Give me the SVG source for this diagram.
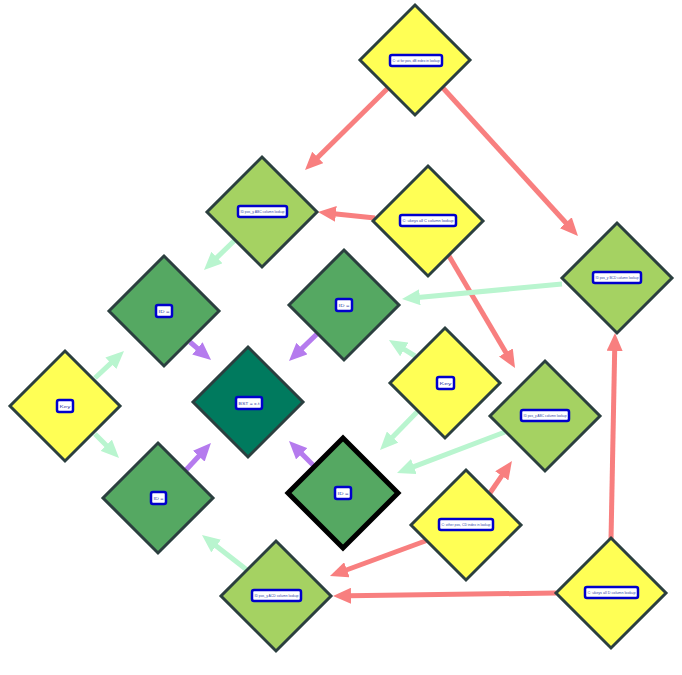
<svg xmlns="http://www.w3.org/2000/svg" width="682" height="675" viewBox="0 0 682 675">
  <defs>
    <style>
      .node { stroke: #2b3f3f; stroke-width: 3; stroke-linejoin: miter; }
      .yellow { fill: #ffff55; }
      .lgreen { fill: #a5d262; }
      .mgreen { fill: #55a862; }
      .teal { fill: #007a5e; }
      .bold { stroke: #000000; stroke-width: 5; }
      .tag { fill: #ffffff; stroke: #0000cc; stroke-width: 2.5; }
      .tag-text { font-family: "Liberation Sans", Arial, sans-serif; font-size: 4px; fill: #3344aa; text-anchor: middle; dominant-baseline: central; }
      .edge { fill: none; stroke-width: 5; }
      .red { stroke: #f87f7f; }
      .mint { stroke: #b9f5cf; }
      .purple { stroke: #b57bee; }
    </style>
    <marker id="ah-red" viewBox="0 0 18 16" markerUnits="userSpaceOnUse" markerWidth="18" markerHeight="16" refX="2" refY="8" orient="auto">
      <path d="M0,0 L18,8 L0,16 z" fill="#f87f7f"/>
    </marker>
    <marker id="ah-mint" viewBox="0 0 18 16" markerUnits="userSpaceOnUse" markerWidth="18" markerHeight="16" refX="2" refY="8" orient="auto">
      <path d="M0,0 L18,8 L0,16 z" fill="#b9f5cf"/>
    </marker>
    <marker id="ah-purple" viewBox="0 0 18 16" markerUnits="userSpaceOnUse" markerWidth="18" markerHeight="16" refX="2" refY="8" orient="auto">
      <path d="M0,0 L18,8 L0,16 z" fill="#b57bee"/>
    </marker>
  </defs>
  <rect width="682" height="675" fill="#ffffff"/>

  <g id="connectors">
    <line class="edge red" x1="388" y1="88" x2="316.4" y2="158.8" marker-end="url(#ah-red)"/>
    <line class="edge red" x1="443" y1="88" x2="567.2" y2="224.2" marker-end="url(#ah-red)"/>
    <line class="edge red" x1="375" y1="218" x2="333.9" y2="213.7" marker-end="url(#ah-red)"/>
    <line class="edge red" x1="449" y1="256" x2="506.9" y2="354.2" marker-end="url(#ah-red)"/>
    <line class="edge red" x1="490" y1="493" x2="502.9" y2="474.2" marker-end="url(#ah-red)"/>
    <line class="edge red" x1="428" y1="540" x2="345" y2="570.5" marker-end="url(#ah-red)"/>
    <line class="edge red" x1="556" y1="593" x2="349" y2="595.8" marker-end="url(#ah-red)"/>
    <line class="edge red" x1="611" y1="540" x2="614.7" y2="349" marker-end="url(#ah-red)"/>

    <line class="edge mint" x1="235" y1="240" x2="215.5" y2="258.9" marker-end="url(#ah-mint)"/>
    <line class="edge mint" x1="562" y1="284" x2="417.9" y2="297.5" marker-end="url(#ah-mint)"/>
    <line class="edge mint" x1="95" y1="378" x2="112.3" y2="361.9" marker-end="url(#ah-mint)"/>
    <line class="edge mint" x1="95" y1="434" x2="107.7" y2="446.7" marker-end="url(#ah-mint)"/>
    <line class="edge mint" x1="415" y1="356" x2="402.6" y2="348.4" marker-end="url(#ah-mint)"/>
    <line class="edge mint" x1="418" y1="411" x2="391.2" y2="438.5" marker-end="url(#ah-mint)"/>
    <line class="edge mint" x1="505" y1="432" x2="412" y2="467.3" marker-end="url(#ah-mint)"/>
    <line class="edge mint" x1="247" y1="570" x2="214.6" y2="544.8" marker-end="url(#ah-mint)"/>

    <line class="edge purple" x1="190" y1="342" x2="198.9" y2="349.6" marker-end="url(#ah-purple)"/>
    <line class="edge purple" x1="318" y1="333" x2="300.5" y2="349.9" marker-end="url(#ah-purple)"/>
    <line class="edge purple" x1="186" y1="470" x2="200.1" y2="454.7" marker-end="url(#ah-purple)"/>
    <line class="edge purple" x1="314" y1="466" x2="300.3" y2="452.3" marker-end="url(#ah-purple)"/>
  </g>

  <g id="n-top">
    <polygon class="node yellow" points="415,5 470,60 415,115 360,60"/>
    <rect class="tag" x="390" y="55" width="52" height="11" rx="2"/>
    <text class="tag-text" x="416" y="60.5" textLength="47" lengthAdjust="spacingAndGlyphs">C: ut for pos, dB index in lookup</text>
  </g>
  <g id="n-abc-upper">
    <polygon class="node lgreen" points="262,157 317,212 262,267 207,212"/>
    <rect class="tag" x="238" y="206" width="49" height="11" rx="2"/>
    <text class="tag-text" x="262.5" y="211.5" textLength="44" lengthAdjust="spacingAndGlyphs">ID pos_y ABC column lookup</text>
  </g>
  <g id="n-keys-c">
    <polygon class="node yellow" points="428,166 483,221 428,276 373,221"/>
    <rect class="tag" x="400" y="215" width="56" height="11" rx="2"/>
    <text class="tag-text" x="428" y="220.5" textLength="51" lengthAdjust="spacingAndGlyphs">C: ukeys all C column lookup</text>
  </g>
  <g id="n-bcd">
    <polygon class="node lgreen" points="617,223 672,278 617,333 562,278"/>
    <rect class="tag" x="593" y="272" width="48" height="11" rx="2"/>
    <text class="tag-text" x="617" y="277.5" textLength="43" lengthAdjust="spacingAndGlyphs">ID pos_y BCD column lookup</text>
  </g>
  <g id="n-id-a">
    <polygon class="node mgreen" points="164,256 219,311 164,366 109,311"/>
    <rect class="tag" x="156" y="305" width="16" height="12" rx="2"/>
    <text class="tag-text" x="164" y="311" textLength="11" lengthAdjust="spacingAndGlyphs">ID =</text>
  </g>
  <g id="n-id-b">
    <polygon class="node mgreen" points="344,250 399,305 344,360 289,305"/>
    <rect class="tag" x="336" y="299" width="16" height="12" rx="2"/>
    <text class="tag-text" x="344" y="305" textLength="11" lengthAdjust="spacingAndGlyphs">ID =</text>
  </g>
  <g id="n-key-right">
    <polygon class="node yellow" points="445,328 500,383 445,438 390,383"/>
    <rect class="tag" x="437" y="377" width="17" height="12" rx="2"/>
    <text class="tag-text" x="445.5" y="383" textLength="12" lengthAdjust="spacingAndGlyphs">Key</text>
  </g>
  <g id="n-bst">
    <polygon class="node teal" points="248,347 303,402 248,457 193,402"/>
    <rect class="tag" x="236" y="397" width="26" height="12" rx="2"/>
    <text class="tag-text" x="249" y="403" textLength="21" lengthAdjust="spacingAndGlyphs">BST = x.t</text>
  </g>
  <g id="n-key-left">
    <polygon class="node yellow" points="65,351 120,406 65,461 10,406"/>
    <rect class="tag" x="57" y="400" width="16" height="12" rx="2"/>
    <text class="tag-text" x="65" y="406" textLength="11" lengthAdjust="spacingAndGlyphs">Key</text>
  </g>
  <g id="n-abc-lower">
    <polygon class="node lgreen" points="545,361 600,416 545,471 490,416"/>
    <rect class="tag" x="521" y="410" width="48" height="11" rx="2"/>
    <text class="tag-text" x="545" y="415.5" textLength="43" lengthAdjust="spacingAndGlyphs">ID pos_y ABC column lookup</text>
  </g>
  <g id="n-id-c">
    <polygon class="node mgreen" points="158,443 213,498 158,553 103,498"/>
    <rect class="tag" x="151" y="492" width="15" height="12" rx="2"/>
    <text class="tag-text" x="158.5" y="498" textLength="10" lengthAdjust="spacingAndGlyphs">ID =</text>
  </g>
  <g id="n-id-d">
    <polygon class="node mgreen bold" points="343,438 398,493 343,548 288,493"/>
    <rect class="tag" x="335" y="487" width="16" height="12" rx="2"/>
    <text class="tag-text" x="343" y="493" textLength="11" lengthAdjust="spacingAndGlyphs">ID =</text>
  </g>
  <g id="n-other">
    <polygon class="node yellow" points="466,470 521,525 466,580 411,525"/>
    <rect class="tag" x="439" y="519" width="54" height="11" rx="2"/>
    <text class="tag-text" x="466" y="524.5" textLength="49" lengthAdjust="spacingAndGlyphs">C: other pos, CD index in lookup</text>
  </g>
  <g id="n-acd">
    <polygon class="node lgreen" points="276,541 331,596 276,651 221,596"/>
    <rect class="tag" x="252" y="590" width="49" height="11" rx="2"/>
    <text class="tag-text" x="276.5" y="595.5" textLength="44" lengthAdjust="spacingAndGlyphs">ID pos_y ACD column lookup</text>
  </g>
  <g id="n-keys-d">
    <polygon class="node yellow" points="611,538 666,593 611,648 556,593"/>
    <rect class="tag" x="585" y="587" width="53" height="11" rx="2"/>
    <text class="tag-text" x="611.5" y="592.5" textLength="48" lengthAdjust="spacingAndGlyphs">C: ukeys all D column lookup</text>
  </g>
</svg>
